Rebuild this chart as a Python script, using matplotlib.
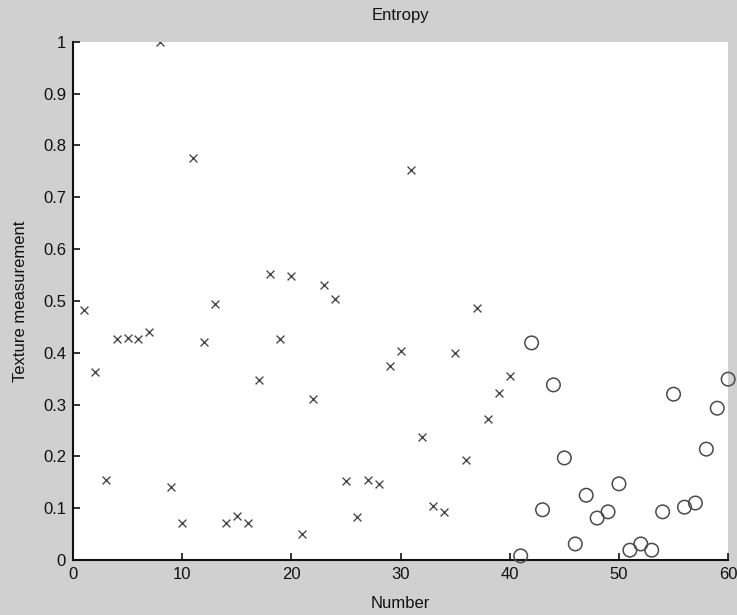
import matplotlib
matplotlib.use("Agg")
import matplotlib.pyplot as plt
import numpy as np

plt.rcParams['font.family'] = ['Liberation Sans', 'DejaVu Sans']

x_cross = list(range(1, 41))
y_cross = [0.483, 0.363, 0.154, 0.427, 0.429, 0.427, 0.44, 1.0, 0.141, 0.071,
           0.775, 0.421, 0.494, 0.071, 0.085, 0.071, 0.347, 0.551, 0.427, 0.548,
           0.05, 0.311, 0.531, 0.504, 0.152, 0.083, 0.154, 0.147, 0.375, 0.404,
           0.753, 0.238, 0.104, 0.093, 0.40, 0.193, 0.486, 0.272, 0.322, 0.355]
x_circ = list(range(41, 61))
y_circ = [0.008, 0.419, 0.097, 0.338, 0.197, 0.031, 0.125, 0.081, 0.093, 0.147,
          0.019, 0.031, 0.019, 0.093, 0.32, 0.102, 0.11, 0.214, 0.293, 0.349]

xticks = [0, 10, 20, 30, 40, 50, 60]
yticks = [0, 0.1, 0.2, 0.3, 0.4, 0.5, 0.6, 0.7, 0.8, 0.9, 1]
yticklabels = ['0', '0.1', '0.2', '0.3', '0.4', '0.5', '0.6', '0.7', '0.8', '0.9', '1']

fig = plt.figure(figsize=(7.37, 6.15), dpi=100, facecolor='#d0d0d0')
ax = fig.add_axes([0.099, 0.0894, 0.889, 0.8426])
ax.set_facecolor('white')

ax.scatter(x_cross, y_cross, marker='x', s=32, c='#4a4a4a', linewidths=1.0, zorder=3)
ax.scatter(x_circ, y_circ, marker='o', s=95, facecolors='none', edgecolors='#4a4a4a',
           linewidths=1.1, zorder=3, clip_on=False)

ax.set_xlim(0, 60)
ax.set_ylim(0, 1)
ax.set_xticks(xticks)
ax.set_yticks(yticks)
ax.set_yticklabels(yticklabels)
ax.tick_params(direction='in', length=5, width=1.2, labelsize=12, colors='#111111', pad=5)
for s in ['top', 'right']:
    ax.spines[s].set_visible(False)
for s in ['left', 'bottom']:
    ax.spines[s].set_linewidth(1.5)
    ax.spines[s].set_color('#111111')

ax.set_title('Entropy', fontsize=12, pad=16, color='#111111')
ax.set_xlabel('Number', fontsize=12, labelpad=10, color='#111111')
ax.set_ylabel('Texture measurement', fontsize=12, labelpad=11, color='#111111')

fig.savefig('out.png', dpi=100, facecolor=fig.get_facecolor())
